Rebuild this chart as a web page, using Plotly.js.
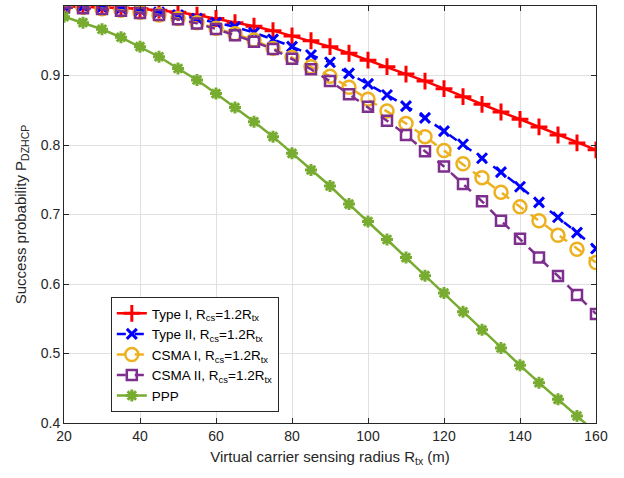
<!DOCTYPE html>
<html><head><meta charset="utf-8">
<script src="https://cdn.plot.ly/plotly-3.0.1.min.js"></script>
<style>body{margin:0;padding:0;background:#fff}#c{width:624px;height:478px}</style>
</head><body><div id="c"></div>
<script>
const radius = [20,25,30,35,40,45,50,55,60,65,70,75,80,85,90,95,100,105,110,115,120,125,130,135,140,145,150,155,160];
const typeI = [0.9995,0.999,0.998,0.997,0.996,0.994,0.991,0.987,0.982,0.976,0.971,0.9645,0.957,0.950,0.9415,0.932,0.922,0.9127,0.902,0.892,0.881,0.8695,0.8585,0.8475,0.837,0.826,0.8144,0.803,0.793];
const typeII = [0.9995,0.999,0.998,0.996,0.994,0.991,0.987,0.982,0.976,0.970,0.9616,0.952,0.9415,0.9295,0.919,0.903,0.888,0.872,0.856,0.839,0.820,0.801,0.781,0.761,0.740,0.7175,0.696,0.674,0.651];
const csmaI = [0.999,0.998,0.996,0.994,0.991,0.987,0.982,0.976,0.968,0.960,0.951,0.939,0.926,0.9127,0.899,0.883,0.866,0.849,0.831,0.812,0.792,0.773,0.753,0.732,0.711,0.691,0.670,0.650,0.631];
const csmaII = [0.998,0.9967,0.9957,0.993,0.990,0.987,0.981,0.975,0.967,0.958,0.9487,0.938,0.924,0.909,0.892,0.873,0.855,0.835,0.8144,0.791,0.769,0.744,0.719,0.691,0.665,0.638,0.6115,0.584,0.557];
const ppp = [0.9846,0.976,0.9665,0.955,0.9415,0.927,0.910,0.8935,0.874,0.854,0.8335,0.812,0.788,0.764,0.741,0.715,0.690,0.664,0.638,0.612,0.587,0.560,0.534,0.508,0.483,0.458,0.434,0.410,0.386];
const names = ["Type I, R<sub>cs</sub>=1.2R<sub>tx</sub>","Type II, R<sub>cs</sub>=1.2R<sub>tx</sub>","CSMA I, R<sub>cs</sub>=1.2R<sub>tx</sub>","CSMA II, R<sub>cs</sub>=1.2R<sub>tx</sub>","PPP"];
const xTicks = [20,40,60,80,100,120,140,160];
const yTicks = [0.4,0.5,0.6,0.7,0.8,0.9,1];
const yTickText = ["0.4","0.5","0.6","0.7","0.8","0.9","1"];

function tr(y, name, color, dash, symbol, msize, mlw){
  return {x: radius, y: y, name: name, type:'scatter', mode:'lines+markers',
    line:{color:color, width:2.5, dash:dash},
    marker:{symbol:symbol, size:msize, color:color, line:{color:color, width:mlw}}};
}
const data = [
  tr(typeI, names[0], '#FF0000', 'solid', 'cross-thin', 12, 3),
  tr(typeII, names[1], '#0000FF', 'dash', 'x-thin', 10, 3),
  tr(csmaI, names[2], '#EDB120', 'dash', 'circle-open', 13, 2.5),
  tr(csmaII, names[3], '#7E2F8E', 'dash', 'square-open', 10, 2.5),
  tr(ppp, names[4], '#77AC30', 'solid', 'asterisk-open', 10, 3)
];
const axisCommon = {showline:true, linecolor:'#262626', linewidth:1, mirror:'ticks', ticks:'inside', ticklen:5, tickcolor:'#262626',
  showgrid:true, gridcolor:'#E0E0E0', gridwidth:1, zeroline:false, tickfont:{size:14, color:'#262626'}};
const layout = {
  width:624, height:478,
  margin:{l:64, r:28, t:6, b:55},
  paper_bgcolor:'#fff', plot_bgcolor:'#fff',
  font:{family:'Liberation Sans, Arial, sans-serif', color:'#262626'},
  xaxis: Object.assign({}, axisCommon, {range:[20,160], tickvals:xTicks,
    title:{text:'Virtual carrier sensing radius R<sub>tx</sub> (m)', font:{size:15}, standoff:8}}),
  yaxis: Object.assign({}, axisCommon, {range:[0.4,1], tickvals:yTicks, ticktext:yTickText,
    title:{text:'Success probability P<sub>DZHCP</sub>', font:{size:15}, standoff:10}}),
  showlegend:true,
  legend:{x:0.088, y:0.302, xanchor:'left', yanchor:'top', bgcolor:'#fff', bordercolor:'#262626', borderwidth:1,
    font:{size:13.5, color:'#000'}, tracegroupgap:0, itemwidth:30}
};
Plotly.newPlot('c', data, layout, {displayModeBar:false, staticPlot:true});
</script></body></html>
